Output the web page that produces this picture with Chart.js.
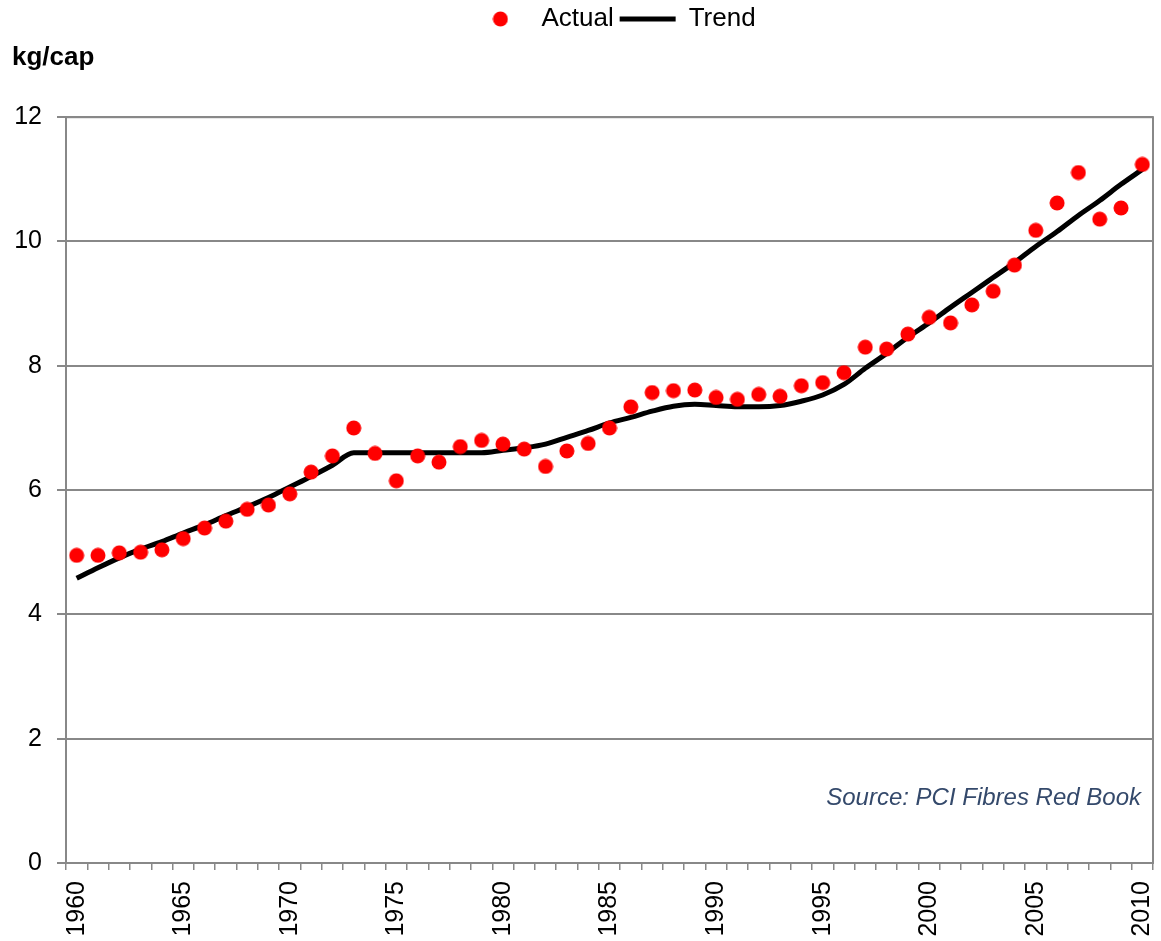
<!DOCTYPE html>
<html>
<head>
<meta charset="utf-8">
<script src="https://cdn.jsdelivr.net/npm/chart.js@4/dist/chart.umd.min.js"></script>
<style>
    body { margin: 0; background: #fff; }
    #wrap { position: relative; width: 1161px; height: 941px; }
    #source { position: absolute; right: 20px; top: 783px; font: italic 24px "Liberation Sans", Arial, sans-serif; color: #34496b; }
</style>
</head>
<body>
<div id="wrap">
    <canvas id="fibreChart" width="1161" height="941"></canvas>
    <div id="source">Source: PCI Fibres Red Book</div>
</div>
<script>
const years = [];
for (let y = 1960; y <= 2010; y++) years.push(String(y));

const actual = [
    4.95, 4.95, 4.99, 5.00, 5.04, 5.22, 5.39, 5.50, 5.69, 5.76,
    5.94, 6.29, 6.55, 7.00, 6.59, 6.15, 6.55, 6.45, 6.70, 6.80,
    6.74, 6.66, 6.38, 6.63, 6.75, 7.00, 7.34, 7.57, 7.60, 7.61,
    7.49, 7.46, 7.54, 7.51, 7.68, 7.73, 7.89, 8.30, 8.27, 8.51,
    8.78, 8.69, 8.98, 9.20, 9.62, 10.18, 10.62, 11.11, 10.36, 10.54,
    11.24
];

const trend = [
    4.58, 4.75, 4.91, 5.05, 5.17, 5.31, 5.44, 5.59, 5.73, 5.88,
    6.05, 6.22, 6.40, 6.60, 6.60, 6.60, 6.60, 6.60, 6.60, 6.60,
    6.64, 6.68, 6.74, 6.85, 6.96, 7.08, 7.17, 7.27, 7.35, 7.38,
    7.36, 7.34, 7.34, 7.36, 7.43, 7.53, 7.70, 7.96, 8.20, 8.46,
    8.69, 8.94, 9.18, 9.42, 9.66, 9.92, 10.16, 10.42, 10.66, 10.92,
    11.16
];

const yTicks = [0, 2, 4, 6, 8, 10, 12];

const gridGrey = '#888888';
const fam = '"Liberation Sans", Arial, sans-serif';
const font = { family: fam, size: 25 };

// red dot for the legend, so the line entry can be wider than the dot
const dot = document.createElement('canvas');
dot.width = 16; dot.height = 16;
(function () {
    const c = dot.getContext('2d');
    c.fillStyle = '#ff0000';
    c.beginPath();
    c.arc(8, 8, 7.5, 0, Math.PI * 2);
    c.fill();
})();

// plot area frame (right edge is visible in the original)
const frame = {
    id: 'frame',
    afterLayout(chart) {
        // legend sits a bit right of centre in the original
        chart.legend.left += 30;
        chart.legend.right += 30;
    },
    afterDatasetsDraw(chart) {
        const a = chart.chartArea, ctx = chart.ctx;
        ctx.save();
        ctx.strokeStyle = gridGrey;
        ctx.lineWidth = 2;
        ctx.strokeRect(a.left, a.top, a.right - a.left, a.bottom - a.top);
        ctx.restore();
    }
};

new Chart(document.getElementById('fibreChart').getContext('2d'), {
    type: 'line',
    data: {
        labels: years,
        datasets: [
            {
                label: 'Actual',
                data: actual,
                showLine: false,
                pointStyle: dot,
                pointRadius: 8,
                pointBackgroundColor: '#ff0000',
                pointBorderWidth: 0,
                backgroundColor: '#ff0000',
                borderColor: '#ff0000',
                order: 1
            },
            {
                label: 'Trend',
                data: trend,
                borderColor: '#000000',
                backgroundColor: '#000000',
                borderWidth: 5,
                pointRadius: 0,
                pointStyle: 'line',
                cubicInterpolationMode: 'monotone',
                order: 2
            }
        ]
    },
    options: {
        responsive: false,
        animation: false,
        layout: { padding: { top: 0, right: 5, bottom: 0, left: 12 } },
        plugins: {
            legend: {
                position: 'top',
                labels: {
                    usePointStyle: true,
                    pointStyleWidth: 56,
                    color: '#000',
                    font: { family: fam, size: 26 },
                    padding: 6,
                    generateLabels: chart => chart.data.datasets.map((ds, i) => ({
                        text: ds.label,
                        datasetIndex: i,
                        pointStyle: i === 0 ? dot : 'line',
                        fillStyle: ds.backgroundColor,
                        strokeStyle: ds.borderColor,
                        lineWidth: i === 0 ? 0 : 5,
                        fontColor: '#000'
                    }))
                }
            },
            title: {
                display: true,
                text: 'kg/cap',
                align: 'start',
                weight: 500,
                color: '#000',
                font: { family: fam, size: 26, weight: 'bold' },
                padding: { top: 0, bottom: 44 }
            },
            tooltip: { enabled: false }
        },
        scales: {
            x: {
                offset: true,
                grid: {
                    offset: true,
                    drawOnChartArea: false,
                    drawTicks: true,
                    tickLength: 7,
                    color: gridGrey,
                    lineWidth: 1.5
                },
                border: { color: gridGrey, width: 2 },
                ticks: {
                    autoSkip: false,
                    maxRotation: 90,
                    minRotation: 90,
                    padding: 11,
                    color: '#000',
                    font: font,
                    callback: (v, i) => (i % 5 === 0 ? years[i] : '')
                },
                afterFit: s => { s.height = 78; s.paddingLeft = 0; s.paddingRight = 0; }
            },
            y: {
                min: 0,
                max: 12,
                afterBuildTicks: s => { s.ticks = yTicks.map(v => ({ value: v })); },
                grid: {
                    color: gridGrey,
                    lineWidth: 2,
                    tickLength: 9
                },
                border: { color: gridGrey, width: 2 },
                ticks: {
                    padding: 15,
                    color: '#000',
                    font: font
                },
                afterFit: s => { s.width = 54; s.paddingTop = 0; s.paddingBottom = 0; }
            }
        }
    },
    plugins: [frame]
});
</script>
</body>
</html>
